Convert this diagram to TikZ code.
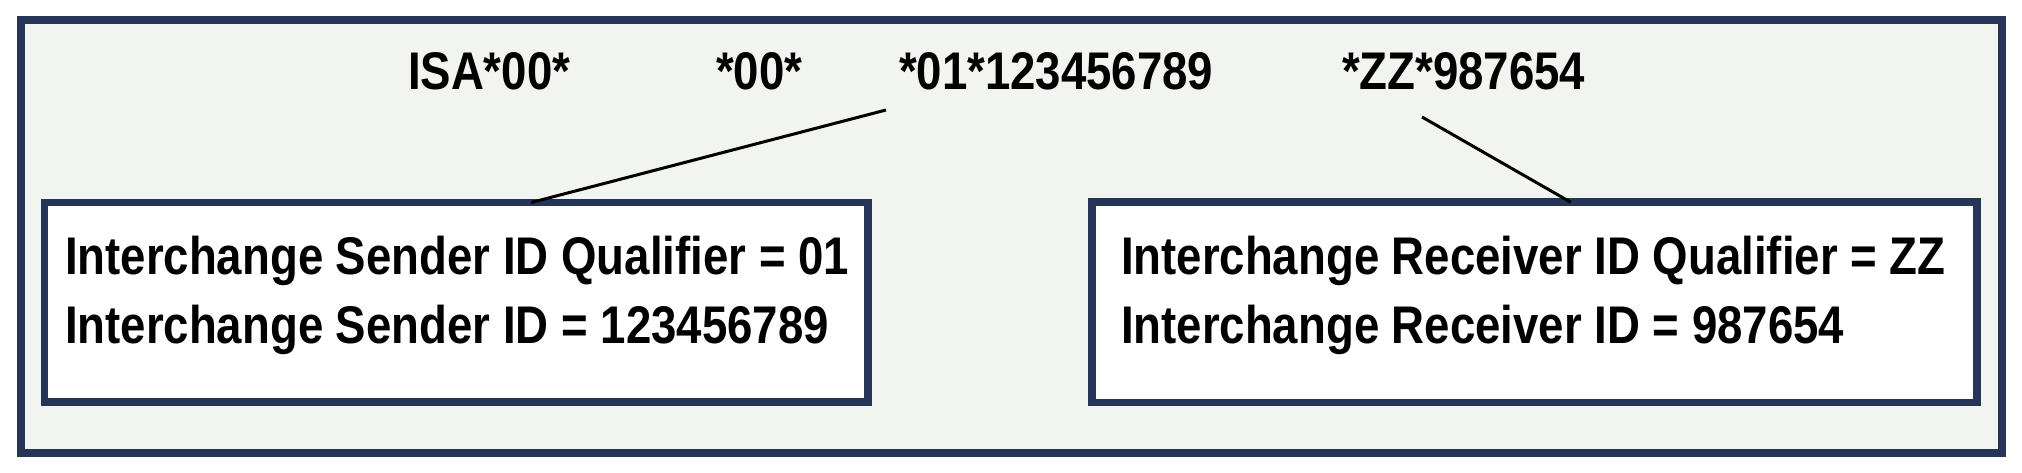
\documentclass[tikz,border=0pt]{standalone}
\usepackage{fontspec}
\setmainfont[FakeStretch=0.86]{Liberation Sans}
\usetikzlibrary{calc}
\definecolor{navy}{HTML}{263457}
\definecolor{panel}{HTML}{F2F4F0}
\tikzset{
  frame/.style={draw=navy, line width=8pt, fill=panel},
  infobox/.style={draw=navy, line width=7.5pt, fill=white, inner sep=0pt, outer sep=0pt},
  txt/.style={inner sep=0pt, outer sep=0pt, anchor=base west, font=\fontsize{53}{60}\selectfont\bfseries},
  conn/.style={draw=black, line width=3pt}
}
\begin{document}
\begin{tikzpicture}[x=1pt, y=-1pt]
\useasboundingbox (0,0) rectangle (2022,473);
\fill[white] (0,0) rectangle (2022,473);
\node[frame, minimum width=1981pt, minimum height=433pt, inner sep=0pt] (outer) at (1011,236.5) {};
% header text
\node[txt] (isa) at (408,90) {ISA*00*};
\node[txt] (f2) at (716,90) {*00*};
\node[txt] (f3) at (899,90) {*01*123456789};
\node[txt] (f4) at (1342,90) {*ZZ*987654};
% boxes
\node[infobox, minimum width=823.5pt, minimum height=199.5pt] (sbox) at (456.25,302.25) {};
\node[infobox, minimum width=885pt, minimum height=200pt] (rbox) at (1534.5,302.25) {};
\node[txt] (s1) at (65,275) {Interchange Sender ID Qualifier = 01};
\node[txt] (s2) at (65,343) {Interchange Sender ID = 123456789};
\node[txt] (r1) at (1121,274) {Interchange Receiver ID Qualifier = ZZ};
\node[txt] (r2) at (1121,343) {Interchange Receiver ID = 987654};
% connectors
\coordinate (sEnd) at (886,110);
\coordinate (rEnd) at (1422,117);
\draw[conn] ($(sbox.north west)!0.591!(sbox.north east)$) -- (sEnd);
\draw[conn] ($(rbox.north west)!0.541!(rbox.north east)$) -- (rEnd);
\end{tikzpicture}
\end{document}
